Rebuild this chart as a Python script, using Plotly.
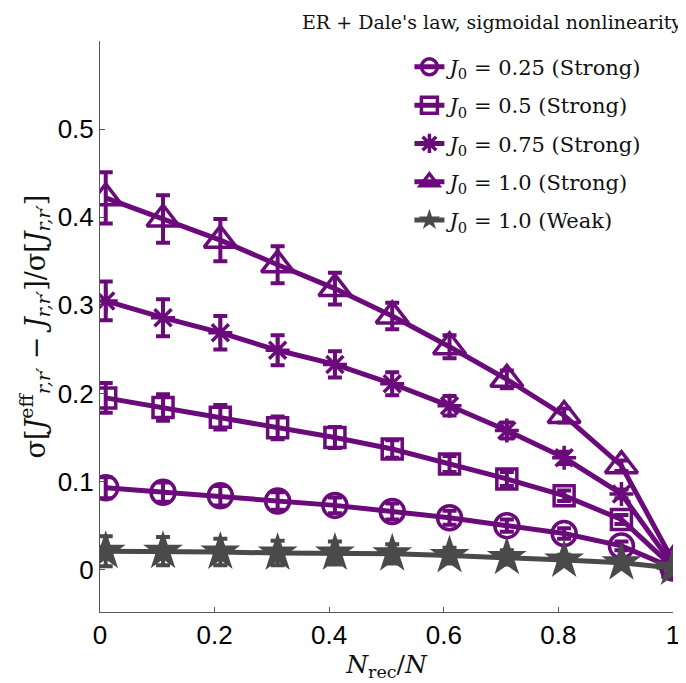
import plotly.graph_objects as go

x_frac = [0.01, 0.11, 0.21, 0.31, 0.41, 0.51, 0.61, 0.71, 0.81, 0.91, 1.0]

y_j025 = [0.093, 0.088, 0.084, 0.078, 0.073, 0.066, 0.059, 0.050, 0.041, 0.027, 0.002]
e_j025 = [0.012, 0.011, 0.011, 0.010, 0.009, 0.009, 0.008, 0.007, 0.006, 0.005, 0.001]

y_j050 = [0.195, 0.184, 0.173, 0.161, 0.150, 0.137, 0.120, 0.103, 0.084, 0.057, 0.003]
e_j050 = [0.017, 0.015, 0.014, 0.013, 0.012, 0.010, 0.009, 0.008, 0.006, 0.005, 0.001]

y_j075 = [0.305, 0.286, 0.269, 0.249, 0.233, 0.211, 0.186, 0.158, 0.127, 0.086, 0.005]
e_j075 = [0.022, 0.021, 0.019, 0.017, 0.015, 0.013, 0.011, 0.009, 0.007, 0.005, 0.001]

y_j100 = [0.422, 0.398, 0.374, 0.346, 0.319, 0.288, 0.253, 0.216, 0.175, 0.118, 0.010]
e_j100 = [0.029, 0.027, 0.024, 0.021, 0.018, 0.015, 0.013, 0.010, 0.008, 0.006, 0.001]

y_weak = [0.021, 0.021, 0.020, 0.019, 0.019, 0.018, 0.016, 0.014, 0.011, 0.008, 0.002]
e_weak = [0.017, 0.016, 0.015, 0.014, 0.013, 0.011, 0.009, 0.008, 0.006, 0.004, 0.001]

labels = [
    "<i>J</i><sub>0</sub> = 0.25 (Strong)",
    "<i>J</i><sub>0</sub> = 0.5 (Strong)",
    "<i>J</i><sub>0</sub> = 0.75 (Strong)",
    "<i>J</i><sub>0</sub> = 1.0 (Strong)",
    "<i>J</i><sub>0</sub> = 1.0 (Weak)",
]

x_ticks = [0, 0.2, 0.4, 0.6, 0.8, 1]
x_ticklabels = ["0", "0.2", "0.4", "0.6", "0.8", "1"]
y_ticks = [0, 0.1, 0.2, 0.3, 0.4, 0.5]
y_ticklabels = ["0", "0.1", "0.2", "0.3", "0.4", "0.5"]

PURPLE = "#6b0a7a"
GRAY = "#4a4a4a"
SERIF = "DejaVu Serif"

series = [
    (y_j025, e_j025, "circle-open", 24, PURPLE),
    (y_j050, e_j050, "square-open", 20, PURPLE),
    (y_j075, e_j075, "asterisk-open", 20, PURPLE),
    (y_j100, e_j100, "triangle-up-open", 28, PURPLE),
    (y_weak, e_weak, "star", 30, GRAY),
]

fig = go.Figure()
for i, (ys, es, sym, sz, col) in enumerate(series):
    fig.add_trace(go.Scatter(
        x=x_frac, y=ys, name=labels[i], mode="lines+markers",
        legendgroup=f"g{i}",
        line=dict(color=col, width=5),
        marker=dict(symbol=sym, size=sz, color=col,
                    line=dict(color=col, width=3.5 if col == PURPLE else 0)),
        error_y=dict(type="data", array=es, visible=True, color=col,
                     thickness=4, width=7),
    ))

# page body adds ~8px offset; margins compensate
fig.update_layout(
    width=686, height=683,
    margin=dict(l=92, r=21, t=33, b=79, autoexpand=False),
    paper_bgcolor="white", plot_bgcolor="white",
    showlegend=True,
    legend=dict(x=0.54, y=0.99, xanchor="left", yanchor="top",
                bgcolor="rgba(0,0,0,0)",
                font=dict(family=SERIF, size=21, color="#111"),
                tracegroupgap=8, itemwidth=30),
    annotations=[dict(
        text="ER + Dale's law, sigmoidal nonlinearity",
        xref="paper", yref="paper", x=1.02, y=1.0, yshift=32,
        xanchor="right", yanchor="top", showarrow=False,
        font=dict(family=SERIF, size=19, color="#111"),
    )],
)

fig.update_xaxes(
    range=[0, 1], tickvals=x_ticks, ticktext=x_ticklabels, automargin=False,
    ticks="inside", ticklen=5, tickcolor="#555", showline=True,
    linecolor="#555", linewidth=1, showgrid=False, zeroline=False,
    tickfont=dict(family="Liberation Sans", size=26, color="black"),
    title=dict(text="<i>N</i><sub>rec</sub>/<i>N</i>",
               font=dict(family=SERIF, size=25, color="#111"), standoff=0),
)
fig.update_yaxes(
    range=[-0.048, 0.6], tickvals=y_ticks, ticktext=y_ticklabels, automargin=False,
    ticks="inside", ticklen=5, tickcolor="#555", showline=True,
    linecolor="#555", linewidth=1, showgrid=False, zeroline=False,
    ticklabelstandoff=0,
    tickfont=dict(family="Liberation Sans", size=26, color="black"),
    title=dict(text="σ[<i>J</i><sup>eff</sup><sub><i>r,r′</i></sub> − <i>J</i><sub><i>r,r′</i></sub>]/σ[<i>J</i><sub><i>r,r′</i></sub>]",
               font=dict(family=SERIF, size=27, color="#111"), standoff=4),
)

fig.write_html("out.html")
